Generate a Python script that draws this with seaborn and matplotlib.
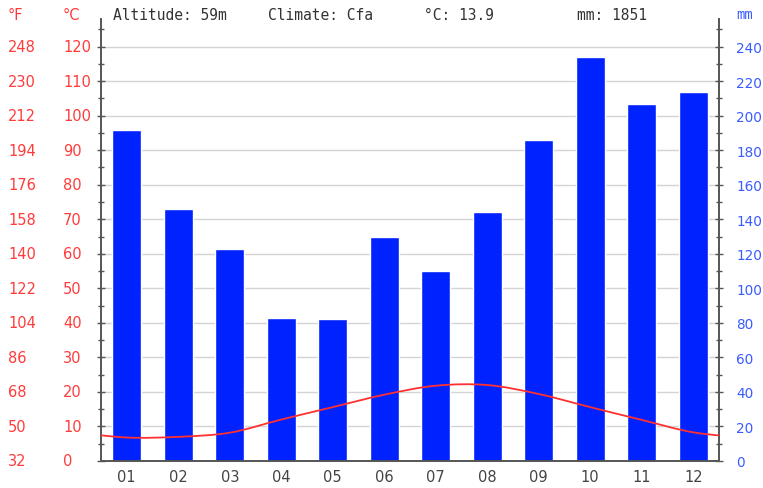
import matplotlib
matplotlib.use("Agg")
import matplotlib.pyplot as plt
import matplotlib.transforms as mtransforms
from matplotlib.path import Path
from matplotlib.patches import PathPatch
from matplotlib.ticker import MultipleLocator
import seaborn as sns
import numpy as np

months = ["01", "02", "03", "04", "05", "06", "07", "08", "09", "10", "11", "12"]
precip_mm = [192, 146, 123, 83, 82, 130, 110, 144, 186, 234, 207, 214]
temp_c = [6.8, 7.0, 8.2, 12.0, 15.6, 19.2, 21.8, 22.0, 19.4, 15.6, 11.9, 8.3]
c_ticks = [0, 10, 20, 30, 40, 50, 60, 70, 80, 90, 100, 110, 120]
f_labels = ["32", "50", "68", "86", "104", "122", "140", "158", "176", "194", "212", "230", "248"]
header = [("Altitude: 59m", 113), ("Climate: Cfa", 268), ("°C: 13.9", 424), ("mm: 1851", 577)]

red = "#ff3b3b"
blue = "#3a5cff"
bar_blue = "#0022ff"
grey = "#444444"

sns.set_style("white")
plt.rcParams["font.family"] = ["DejaVu Sans"]

W, H = 763, 489
fig = plt.figure(figsize=(W / 100, H / 100), dpi=100)
ax2 = fig.add_axes([101 / W, 27 / H, 618 / W, 442 / H])  # mm axis, bars
ax = ax2.twinx()  # temperature on top
ax.yaxis.tick_left()

# bars
sns.barplot(x=months, y=precip_mm, color=bar_blue, saturation=1, width=0.56,
            ax=ax2, zorder=2)
ax2.set_xlim(-0.5, 11.5)
ax2.set_ylim(0, 256)
ax2.yaxis.tick_right()
ax2.set_xlabel("")
ax2.set_ylabel("")
ax2.yaxis.set_major_locator(MultipleLocator(20))
ax2.yaxis.set_minor_locator(MultipleLocator(10))
ax2.set_yticks(range(0, 241, 20))
ax2.grid(axis="y", color="#d4d4d4", linewidth=1)
ax2.set_axisbelow(True)
ax2.tick_params(axis="y", which="major", direction="inout", length=6, width=1,
                colors="#555555", labelcolor=blue, labelsize=9.8, pad=9.3)
ax2.tick_params(axis="y", which="minor", direction="inout", length=4, width=1,
                colors="#555555")

# x ticks: marks on month boundaries, labels at centres
ax2.set_xticks(range(12))
ax2.set_xticklabels(months)
ax2.xaxis.set_minor_locator(MultipleLocator(1, offset=0.5))
ax2.tick_params(axis="x", which="major", length=0, labelcolor=grey, labelsize=10.5, pad=6)
ax2.tick_params(axis="x", which="minor", direction="out", length=5, width=1, colors="#555555")

for a in (ax, ax2):
    a.spines["top"].set_visible(False)
    for s in ["left", "right", "bottom"]:
        a.spines[s].set_color("#555555")
        a.spines[s].set_linewidth(1.2)

# temperature axis
ax.set_xlim(-0.5, 11.5)
ax.set_ylim(0, 128)
ax.yaxis.set_major_locator(MultipleLocator(10))
ax.yaxis.set_minor_locator(MultipleLocator(5))
ax.set_yticks(c_ticks)
ax.set_yticklabels([])
ax.tick_params(axis="y", which="major", direction="inout", length=6, width=1, colors="#555555")
ax.tick_params(axis="y", which="minor", direction="inout", length=4, width=1, colors="#555555")
ax.tick_params(axis="y", which="both", right=False)

# smooth temperature curve (Catmull-Rom bezier through monthly values, wrapped)
xs = np.arange(-1, 13)
ys = [temp_c[-1]] + temp_c + [temp_c[0]]
verts = [(xs[0], ys[0])]
codes = [Path.MOVETO]
for i in range(len(xs) - 1):
    p0 = (xs[max(i - 1, 0)], ys[max(i - 1, 0)])
    p1 = (xs[i], ys[i])
    p2 = (xs[i + 1], ys[i + 1])
    p3 = (xs[min(i + 2, len(xs) - 1)], ys[min(i + 2, len(xs) - 1)])
    c1 = (p1[0] + (p2[0] - p0[0]) / 6, p1[1] + (p2[1] - p0[1]) / 6)
    c2 = (p2[0] - (p3[0] - p1[0]) / 6, p2[1] - (p3[1] - p1[1]) / 6)
    verts += [c1, c2, p2]
    codes += [Path.CURVE4] * 3
ax.add_patch(PathPatch(Path(verts, codes), fill=False, edgecolor="#ff3030",
                       linewidth=1.3, zorder=3))

# temperature labels (°C and °F columns)
trans = mtransforms.blended_transform_factory(fig.transFigure, ax.transData)
for c, f in zip(c_ticks, f_labels):
    ax.text(63 / W, c, str(c), transform=trans, ha="left", va="center",
            color=red, fontsize=10.5)
    ax.text(8 / W, c, f, transform=trans, ha="left", va="center",
            color=red, fontsize=10.5)

# header texts
ty = 1 - 15 / H
fig.text(8 / W, ty, "°F", color=red, fontsize=10.5, ha="left", va="center")
fig.text(63 / W, ty, "°C", color=red, fontsize=10.5, ha="left", va="center")
fig.text(736 / W, ty, "mm", color=blue, fontsize=10, ha="left", va="center",
         family="DejaVu Sans Mono")
for txt, x in header:
    fig.text(x / W, ty, txt, color="#333333", fontsize=10.5, ha="left", va="center",
             family="DejaVu Sans Mono")

fig.savefig("out.png", dpi=100)
